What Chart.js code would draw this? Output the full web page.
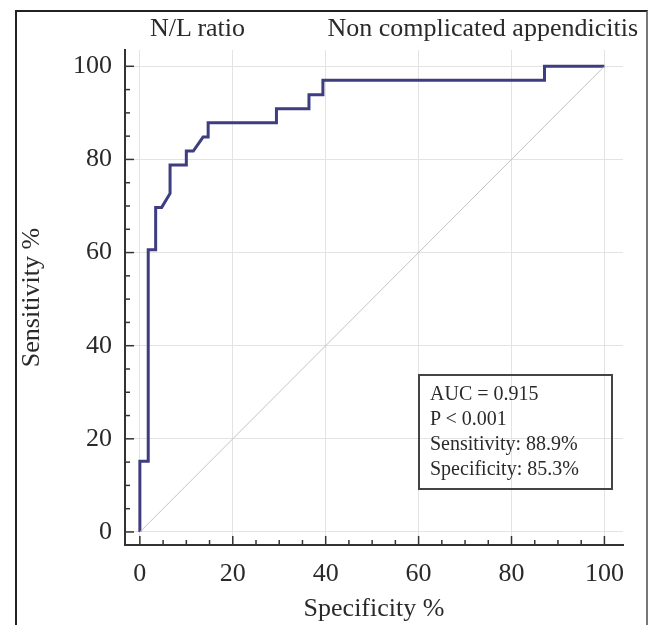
<!DOCTYPE html>
<html>
<head>
<meta charset="utf-8">
<script src="https://cdn.jsdelivr.net/npm/chart.js@4.4.1/dist/chart.umd.min.js"></script>
<style>
  html, body { margin: 0; padding: 0; background: #fff; }
  #wrap { position: relative; width: 654px; height: 625px; overflow: hidden; }
  #frame { position: absolute; left: 15px; top: 10px; width: 629px; height: 640px;
           border-left: 2px solid #222; border-top: 2px solid #222; border-right: 2px solid #777; }
  .title { position: absolute; top: 13px; font: 26px "Liberation Serif", serif; color: #2a2a2a;
           line-height: 30px; white-space: nowrap; }
  #stats { position: absolute; left: 418px; top: 374px; width: 195px; height: 116px;
           border: 2px solid #444; padding: 5px 0 0 10px; box-sizing: border-box;
           font: 20px "Liberation Serif", serif; color: #2a2a2a; line-height: 25px; }
</style>
</head>
<body>
<div id="wrap">
  <canvas id="roc" width="654" height="625"></canvas>
  <div id="frame"></div>
  <div class="title" style="left:150px">N/L ratio</div>
  <div class="title" style="right:16px">Non complicated appendicitis</div>
  <div id="stats">AUC = 0.915<br>P &lt; 0.001<br>Sensitivity: 88.9%<br>Specificity: 85.3%</div>
</div>
<script>
// ROC curve corners (100 - specificity, sensitivity)
const fpr  = [0, 0, 1.8, 1.8, 3.4, 3.4, 4.7, 6.5, 6.5, 10.0, 10.0, 11.5, 13.6, 14.7, 14.7, 29.4, 29.4, 36.4, 36.4, 39.4, 39.4, 87.1, 87.1, 100]
const sens = [0, 15.2, 15.2, 60.6, 60.6, 69.7, 69.7, 72.7, 78.8, 78.8, 81.8, 81.8, 84.8, 84.8, 87.9, 87.9, 90.9, 90.9, 93.9, 93.9, 97.0, 97.0, 100, 100]

// reference diagonal
const diagX = [0, 100]
const diagY = [0, 100]

// tick positions (major every 20, minor every 5)
const tickValues = [0, 5, 10, 15, 20, 25, 30, 35, 40, 45, 50, 55, 60, 65, 70, 75, 80, 85, 90, 95, 100]

const font = { family: "Liberation Serif", size: 26 }
const textColor = "#2a2a2a"

// inward tick marks like the original plot
let InwardTicks = {
  id: "inwardTicks",
  afterDraw(chart) {
    const { ctx } = chart
    const x = chart.scales.x
    const y = chart.scales.y
    ctx.save()
    ctx.strokeStyle = "#333"
    ctx.lineWidth = 1.5
    x.ticks.forEach(t => {
      const px = x.getPixelForValue(t.value)
      const len = t.value % 20 === 0 ? 9 : 5
      ctx.beginPath()
      ctx.moveTo(px, x.top)
      ctx.lineTo(px, x.top - len)
      ctx.stroke()
    })
    y.ticks.forEach(t => {
      const py = y.getPixelForValue(t.value)
      const len = t.value % 20 === 0 ? 9 : 5
      ctx.beginPath()
      ctx.moveTo(y.right, py)
      ctx.lineTo(y.right + len, py)
      ctx.stroke()
    })
    ctx.restore()
  }
}

const gridColor = c => (c.tick && c.tick.value % 20 === 0) ? "#e3e3e3" : "rgba(0,0,0,0)"
const label = v => (v % 20 === 0 ? v : "")

new Chart(document.getElementById("roc"), {
  type: "line",
  data: {
    datasets: [
      {
        data: diagX.map((v, i) => ({ x: v, y: diagY[i] })),
        borderColor: "#c4c4c4",
        borderWidth: 1,
        pointRadius: 0
      },
      {
        data: fpr.map((v, i) => ({ x: v, y: sens[i] })),
        borderColor: "#3d3d80",
        borderWidth: 3,
        pointRadius: 0,
        borderJoinStyle: "miter"
      }
    ]
  },
  options: {
    responsive: false,
    animation: false,
    layout: { padding: { top: 50, right: 31, bottom: 0, left: 0 } },
    plugins: { legend: { display: false }, tooltip: { enabled: false } },
    scales: {
      x: {
        type: "linear",
        min: -3.2,
        max: 104,
        afterBuildTicks: s => { s.ticks = tickValues.map(v => ({ value: v })) },
        afterFit: s => { s.height = 80 },
        ticks: { autoSkip: false, maxRotation: 0, padding: 14, font, color: textColor, callback: label },
        grid: { drawTicks: false, color: gridColor, lineWidth: 1 },
        border: { display: true, color: "#333", width: 2 },
        title: { display: true, text: "Specificity %", font, color: textColor, padding: { top: 0, bottom: 0 } }
      },
      y: {
        type: "linear",
        min: -2.8,
        max: 103.5,
        afterBuildTicks: s => { s.ticks = tickValues.map(v => ({ value: v })) },
        afterFit: s => { s.width = 125 },
        ticks: { autoSkip: false, padding: 13, font, color: textColor, callback: label },
        grid: { drawTicks: false, color: gridColor, lineWidth: 1 },
        border: { display: true, color: "#333", width: 2 },
        title: { display: true, text: "Sensitivity %", font, color: textColor, padding: { top: 17, bottom: 0 } }
      }
    }
  },
  plugins: [InwardTicks]
})
</script>
</body>
</html>
